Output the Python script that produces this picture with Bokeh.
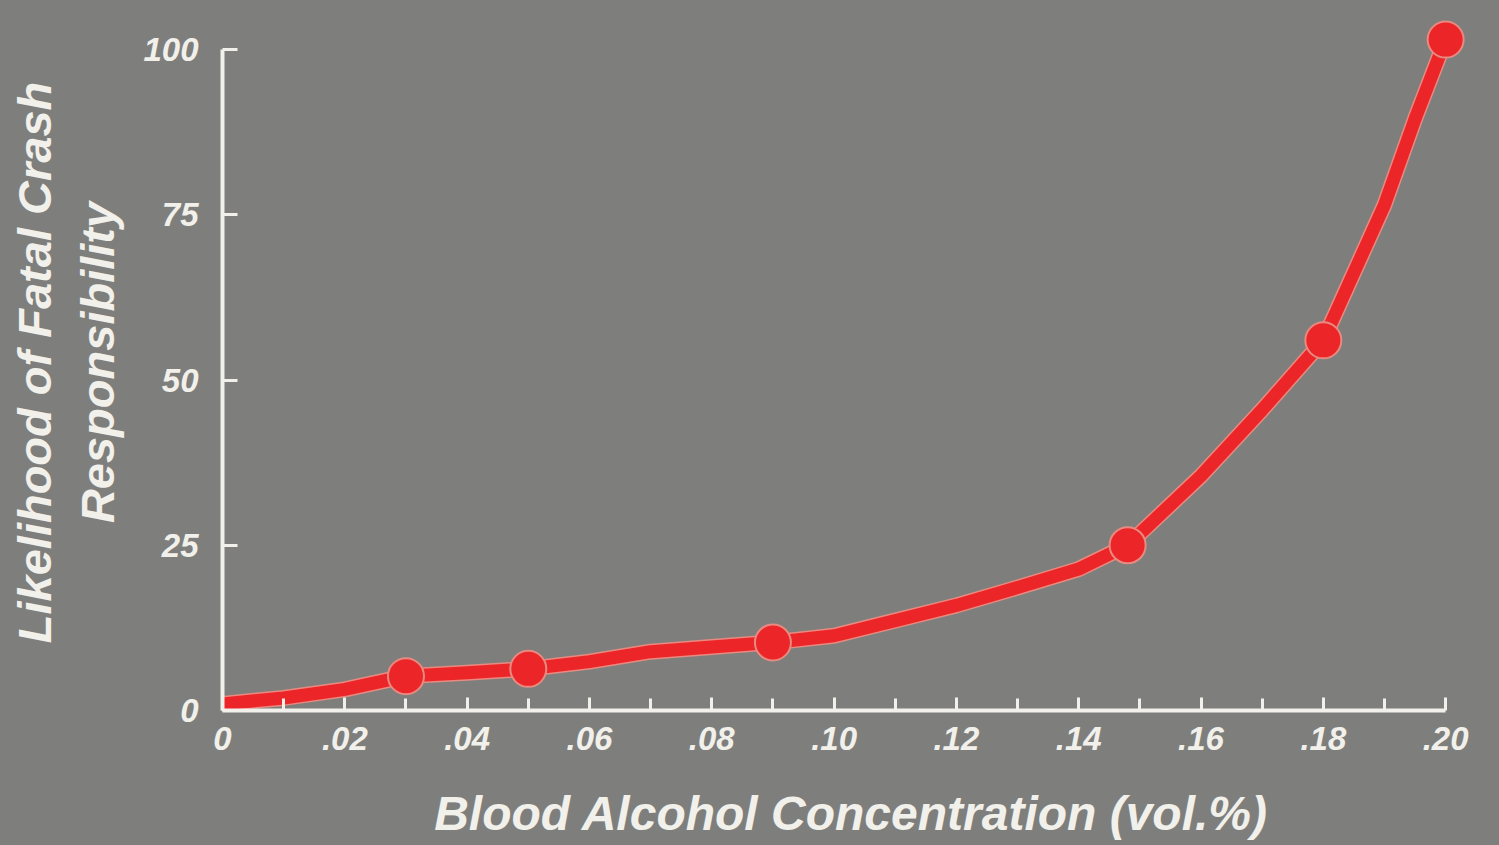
from bokeh.plotting import figure
from bokeh.models import Range1d, FixedTicker, CustomJSTickFormatter
from bokeh.embed import file_html
from bokeh.resources import INLINE

# ---- data ----
bac_curve = [0.0, 0.01, 0.02, 0.03, 0.04, 0.05, 0.06, 0.07, 0.08, 0.09, 0.10,
             0.11, 0.12, 0.13, 0.14, 0.148, 0.16, 0.17, 0.18, 0.19, 0.195, 0.20]
likelihood_curve = [1.0, 1.9, 3.2, 5.2, 5.7, 6.3, 7.4, 8.9, 9.6, 10.3, 11.3,
                    13.6, 15.9, 18.6, 21.4, 25.0, 35.5, 45.5, 56.0, 76.5, 89.5, 101.5]
bac_points = [0.03, 0.05, 0.09, 0.148, 0.18, 0.20]
likelihood_points = [5.2, 6.3, 10.3, 25.0, 56.0, 101.5]

x_major_ticks = [0.0, 0.02, 0.04, 0.06, 0.08, 0.10, 0.12, 0.14, 0.16, 0.18, 0.20]
x_minor_ticks = [0.01, 0.03, 0.05, 0.07, 0.09, 0.11, 0.13, 0.15, 0.17, 0.19]
y_ticks = [0, 25, 50, 75, 100]

x_title = "Blood Alcohol Concentration (vol.%)"
y_title = "Likelihood of Fatal Crash\nResponsibility"

BG = "#7e7f7d"
FG = "#f2f0ea"
RED = "#ec2628"
HALO = "#e98a80"
FONT = "Liberation Sans"

p = figure(width=1499, height=845, output_backend="svg", toolbar_location=None,
           x_range=Range1d(0, 0.2057), y_range=Range1d(0, 105.3),
           min_border_left=222, min_border_right=19, min_border_top=14,
           min_border_bottom=135)
p.styles = {"background-color": BG}
p.background_fill_color = BG
p.border_fill_color = BG
p.outline_line_color = None
p.grid.visible = False

# curve with light halo
p.line(bac_curve, likelihood_curve, line_color=HALO, line_width=16,
       line_join="round", line_cap="round")
p.line(bac_curve, likelihood_curve, line_color=RED, line_width=13,
       line_join="round", line_cap="round")
p.scatter(bac_points, likelihood_points, size=36, fill_color=RED,
          line_color=HALO, line_width=2)

# x axis
xa = p.xaxis[0]
xa.bounds = (0, 0.2)
xa.ticker = FixedTicker(ticks=x_major_ticks, minor_ticks=x_minor_ticks)
xa.formatter = CustomJSTickFormatter(
    code="if (Math.abs(tick) < 1e-9) { return '0'; } return tick.toFixed(2).replace(/^0/, '');")
xa.axis_label = x_title
xa.axis_line_color = FG
xa.axis_line_width = 4
xa.major_tick_line_color = FG
xa.major_tick_line_width = 3
xa.major_tick_in = 13
xa.major_tick_out = 0
xa.minor_tick_line_color = FG
xa.minor_tick_line_width = 3
xa.minor_tick_in = 12
xa.minor_tick_out = 0
xa.major_label_text_color = FG
xa.major_label_text_font = FONT
xa.major_label_text_font_style = "bold italic"
xa.major_label_text_font_size = "33px"
xa.major_label_standoff = 16
xa.axis_label_text_color = FG
xa.axis_label_text_font = FONT
xa.axis_label_text_font_style = "bold italic"
xa.axis_label_text_font_size = "48px"
xa.axis_label_standoff = 34

# y axis
ya = p.yaxis[0]
ya.bounds = (0, 100)
ya.ticker = FixedTicker(ticks=y_ticks, minor_ticks=[])
ya.axis_label = y_title
ya.axis_line_color = FG
ya.axis_line_width = 4
ya.major_tick_line_color = FG
ya.major_tick_line_width = 3
ya.major_tick_in = 15
ya.major_tick_out = 0
ya.minor_tick_line_color = None
ya.major_label_text_color = FG
ya.major_label_text_font = FONT
ya.major_label_text_font_style = "bold italic"
ya.major_label_text_font_size = "33px"
ya.major_label_standoff = 24
ya.axis_label_text_color = FG
ya.axis_label_text_font = FONT
ya.axis_label_text_font_style = "bold italic"
ya.axis_label_text_font_size = "47px"
ya.axis_label_standoff = 16

open("out.html", "w").write(file_html(p, INLINE))
